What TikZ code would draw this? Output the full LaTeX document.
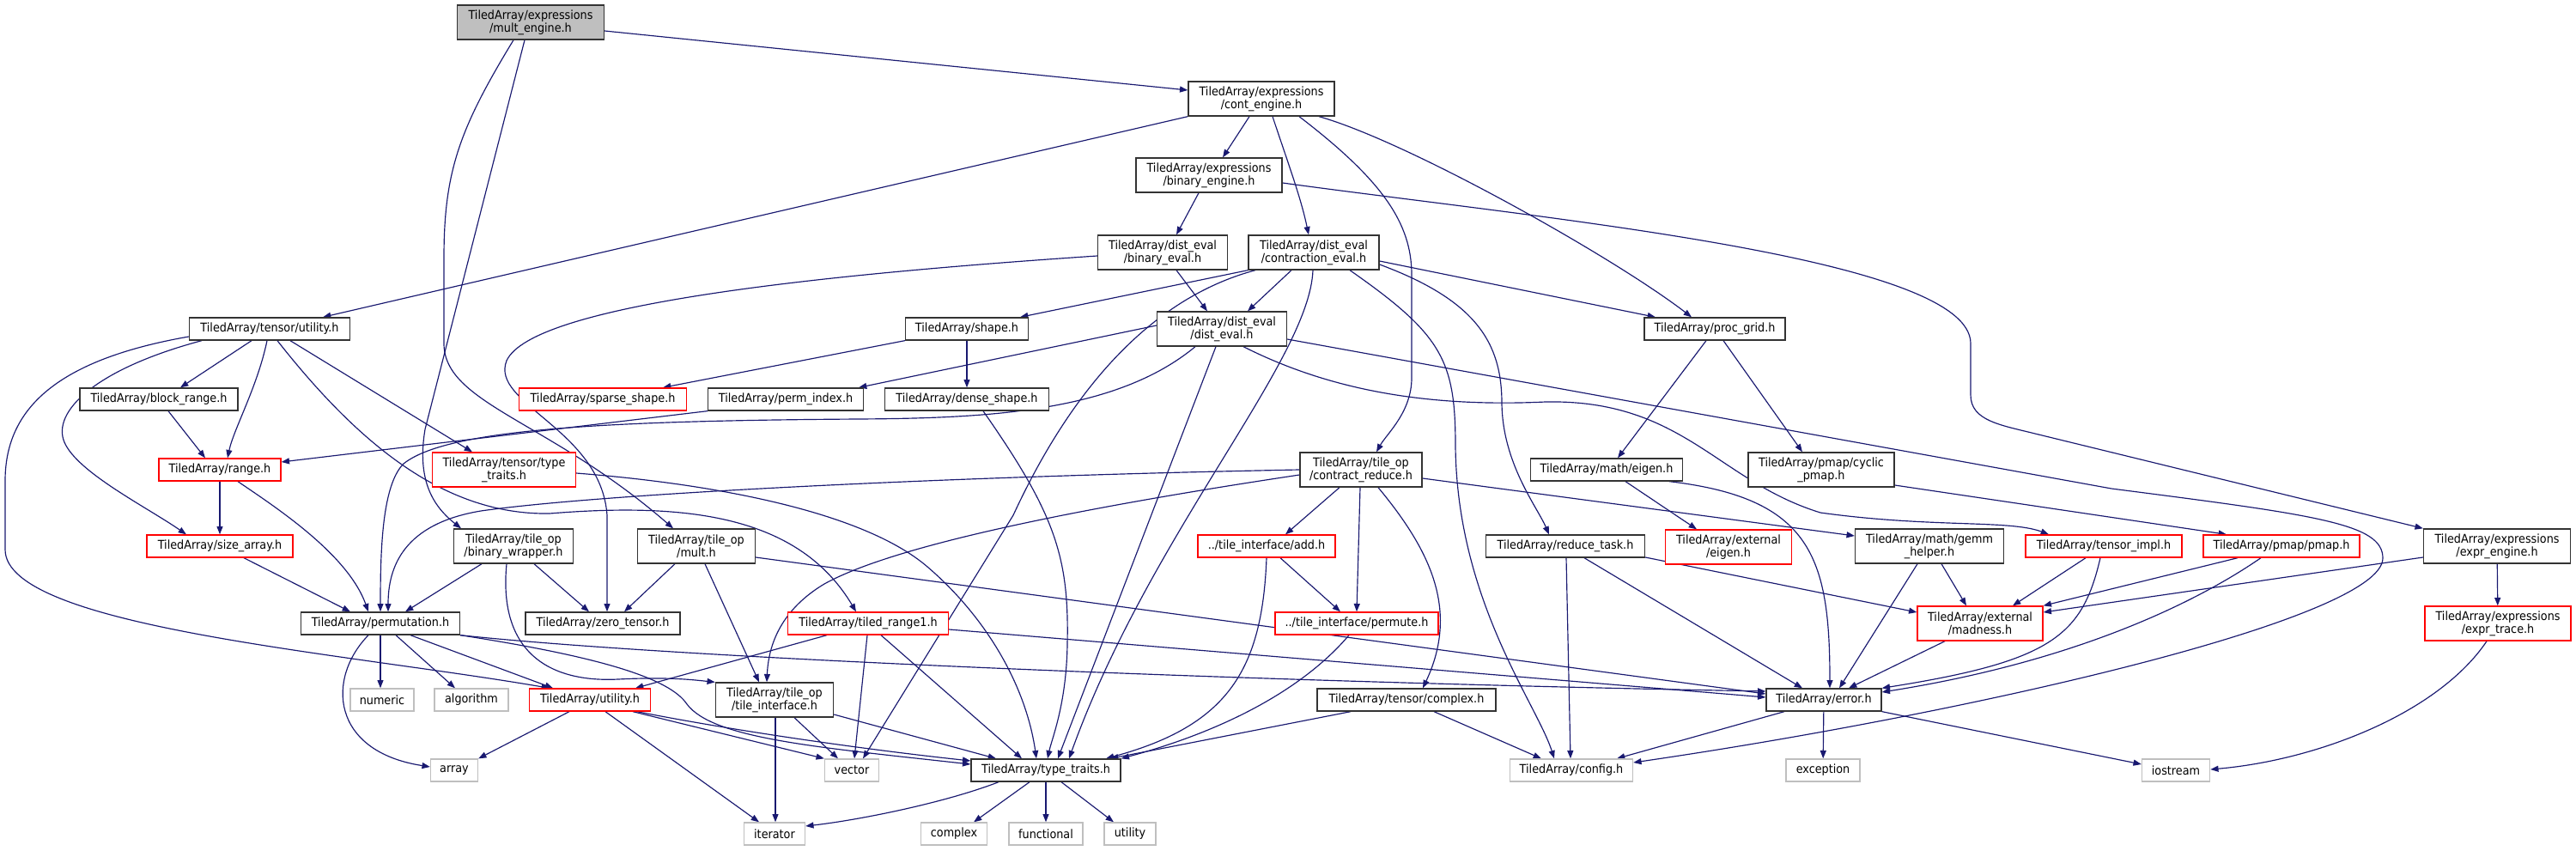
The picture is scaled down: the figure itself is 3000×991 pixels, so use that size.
\documentclass[tikz,border=0pt]{standalone}
\usepackage{fontspec}
\usepackage{tikz}
\usetikzlibrary{arrows.meta,positioning,backgrounds}
\newfontfamily\dxfont[FakeStretch=0.91]{DejaVu Sans}
\definecolor{edgeblue}{RGB}{25,25,112}
\definecolor{boxgray}{RGB}{191,191,191}

\begin{document}
\begin{tikzpicture}[
    x=0.3mm, y=-0.3mm,
    box/.style={rectangle, draw=black!80, line width=0.4mm, fill=white, align=center,
        inner sep=0pt, minimum height=7.8mm, font=\dxfont\fontsize{12}{12.5}\selectfont},
    tall/.style={minimum height=12mm},
    wd/.style={minimum width=#1*0.3mm},
    redbox/.style={box, draw=red},
    sysbox/.style={box, draw=black!25},
    mainbox/.style={box, fill=boxgray},
    arrow/.style={draw=edgeblue, line width=0.35mm, -{Triangle[length=2.8mm, width=2.1mm]}}
]
\useasboundingbox (0,0) rectangle (3000,991);

\node[mainbox, tall, wd=171] (mult) at (618,26) {TiledArray/expressions\\/mult\_engine.h};
\node[box, tall, wd=170] (cont) at (1469,115) {TiledArray/expressions\\/cont\_engine.h};
\node[box, tall, wd=170] (bineng) at (1408,204) {TiledArray/expressions\\/binary\_engine.h};
\node[box, tall, wd=151] (bineval) at (1354,294) {TiledArray/dist\_eval\\/binary\_eval.h};
\node[box, tall, wd=152] (contr) at (1530,294) {TiledArray/dist\_eval\\/contraction\_eval.h};
\node[box, wd=187] (tutil) at (314,383) {TiledArray/tensor/utility.h};
\node[box, wd=143] (shape) at (1126,383) {TiledArray/shape.h};
\node[box, tall, wd=151] (disteval) at (1423,383) {TiledArray/dist\_eval\\/dist\_eval.h};
\node[box, wd=164] (procgrid) at (1997,383) {TiledArray/proc\_grid.h};
\node[box, wd=184] (blockr) at (185,465) {TiledArray/block\_range.h};
\node[redbox, wd=195] (sparse) at (702,465) {TiledArray/sparse\_shape.h};
\node[box, wd=181] (permidx) at (915,465) {TiledArray/perm\_index.h};
\node[box, wd=191] (dense) at (1126,465) {TiledArray/dense\_shape.h};
\node[redbox, wd=142] (range) at (256,547) {TiledArray/range.h};
\node[redbox, tall, wd=167] (ttraits) at (587,547) {TiledArray/tensor/type\\\_traits.h};
\node[box, tall, wd=142] (contred) at (1585,547) {TiledArray/tile\_op\\/contract\_reduce.h};
\node[box, wd=177] (eigen) at (1871,547) {TiledArray/math/eigen.h};
\node[box, tall, wd=170] (cyclic) at (2121,547) {TiledArray/pmap/cyclic\\\_pmap.h};
\node[redbox, wd=170] (sizearr) at (256,636) {TiledArray/size\_array.h};
\node[box, tall, wd=139] (binwrap) at (598,636) {TiledArray/tile\_op\\/binary\_wrapper.h};
\node[box, tall, wd=137] (multh) at (811,636) {TiledArray/tile\_op\\/mult.h};
\node[redbox, wd=160] (add) at (1475,636) {../tile\_interface/add.h};
\node[box, wd=185] (reduce) at (1823,636) {TiledArray/reduce\_task.h};
\node[redbox, tall, wd=147] (exteigen) at (2013,637) {TiledArray/external\\/eigen.h};
\node[box, tall, wd=173] (gemm) at (2247,636) {TiledArray/math/gemm\\\_helper.h};
\node[redbox, wd=182] (timpl) at (2450,636) {TiledArray/tensor\_impl.h};
\node[redbox, wd=182] (pmap) at (2657,636) {TiledArray/pmap/pmap.h};
\node[box, tall, wd=171] (exprengine) at (2908,636) {TiledArray/expressions\\/expr\_engine.h};
\node[box, wd=185] (perm) at (443,726) {TiledArray/permutation.h};
\node[box, wd=180] (zerot) at (702,726) {TiledArray/zero\_tensor.h};
\node[redbox, wd=187] (tr1) at (1011,726) {TiledArray/tiled\_range1.h};
\node[redbox, wd=190] (permute) at (1580,726) {../tile\_interface/permute.h};
\node[redbox, tall, wd=146] (madness) at (2306,726) {TiledArray/external\\/madness.h};
\node[redbox, tall, wd=170] (exprtrace) at (2909,726) {TiledArray/expressions\\/expr\_trace.h};
\node[sysbox, wd=74] (numeric) at (445,815) {numeric};
\node[sysbox, wd=86] (algorithm) at (549,815) {algorithm};
\node[redbox, wd=141] (utilh) at (687,815) {TiledArray/utility.h};
\node[box, tall, wd=137] (tileif) at (902,815) {TiledArray/tile\_op\\/tile\_interface.h};
\node[box, wd=208] (complexh) at (1638,815) {TiledArray/tensor/complex.h};
\node[box, wd=134] (error) at (2124,815) {TiledArray/error.h};
\node[sysbox, wd=55] (array) at (529,897) {array};
\node[sysbox, wd=63] (vector) at (992,897) {vector};
\node[box, wd=174] (ttr) at (1218,897) {TiledArray/type\_traits.h};
\node[sysbox, wd=143] (config) at (1830,897) {TiledArray/config.h};
\node[sysbox, wd=86] (exception) at (2123,897) {exception};
\node[sysbox, wd=79] (iostream) at (2534,897) {iostream};
\node[sysbox, wd=71] (iterator) at (902,971) {iterator};
\node[sysbox, wd=77] (complex) at (1111,971) {complex};
\node[sysbox, wd=86] (functional) at (1218,971) {functional};
\node[sysbox, wd=60] (utility) at (1316,971) {utility};

\begin{scope}[on background layer]
\draw[arrow] (mult.east |- 0,36) -- (cont.west |- 0,105);
\draw[arrow] (mult.south -| 611,0) -- (495,500) .. controls (485,560) and (505,590) .. (binwrap.north -| 537,0);
\draw[arrow] (mult.south -| 598,0) .. controls (535,150) and (517,200) .. (517,300) -- (517,400) .. controls (517,470) and (640,490) .. (multh.north -| 784,0);
\draw[arrow] (cont.south -| 1455,0) -- (bineng.north -| 1424,0);
\draw[arrow] (cont.south -| 1482,0) .. controls (1500,190) and (1515,230) .. (contr.north -| 1524,0);
\draw[arrow] (cont.south -| 1513,0) .. controls (1610,210) and (1644,260) .. (1644,320) -- (1644,440) .. controls (1644,480) and (1615,505) .. (contred.north -| 1603,0);
\draw[arrow] (cont.south -| 1536,0) .. controls (1640,165) and (1880,300) .. (procgrid.north -| 1970,0);
\draw[arrow] (cont.south west) -- (tutil.north -| 376,0);
\draw[arrow] (bineng.south -| 1396,0) -- (bineval.north -| 1370,0);
\draw[arrow] (bineng.east |- 0,213) .. controls (1800,255) and (2295,300) .. (2295,400) -- (2295,460) .. controls (2295,490) and (2330,495) .. (2370,505) -- (exprengine.north west);
\draw[arrow] (bineval.south -| 1370,0) -- (disteval.north -| 1406,0);
\draw[arrow] (bineval.west |- 0,298) .. controls (950,320) and (620,355) .. (590,420) .. controls (570,470) and (700,500) .. (707,600) -- (zerot.north -| 707,0);
\draw[arrow] (contr.south west) -- (shape.north -| 1188,0);
\draw[arrow] (contr.south -| 1504,0) -- (disteval.north -| 1453,0);
\draw[arrow] (contr.south -| 1462,0) .. controls (1330,350) and (1240,470) .. (1180,600) -- (vector.north -| 1005,0);
\draw[arrow] (contr.south -| 1529,0) .. controls (1525,420) and (1340,620) .. (ttr.north -| 1245,0);
\draw[arrow] (contr.south -| 1572,0) .. controls (1680,390) and (1695,420) .. (1695,520) .. controls (1697,700) and (1790,820) .. (config.north -| 1810,0);
\draw[arrow] (contr.east |- 0,308) .. controls (1720,350) and (1749,400) .. (1749,470) .. controls (1750,540) and (1790,590) .. (reduce.north -| 1804,0);
\draw[arrow] (contr.east |- 0,304) -- (procgrid.north -| 1928,0);
\draw[arrow] (disteval.west |- 0,379) -- (permidx.north -| 1000,0);
\draw[arrow] (disteval.south -| 1392,0) .. controls (1300,480) and (1150,487) .. (1000,488) .. controls (700,490) and (520,500) .. (470,540) .. controls (445,565) and (443,640) .. (perm.north -| 443,0);
\draw[arrow] (disteval.south -| 1416,0) -- (ttr.north -| 1232,0);
\draw[arrow] (disteval.south -| 1448,0) .. controls (1540,450) and (1650,475) .. (1800,468) .. controls (1960,465) and (2000,560) .. (2120,597) .. controls (2250,615) and (2340,605) .. (timpl.north -| 2386,0);
\draw[arrow] (disteval.east |- 0,395) -- (2459,569) .. controls (2700,600) and (2775,610) .. (2775,650) .. controls (2775,720) and (2300,830) .. (config.east |- 0,888);
\draw[arrow] (shape.south west) -- (sparse.north -| 772,0);
\draw[arrow] (shape) -- (dense);
\draw[arrow] (procgrid.south -| 1987,0) -- (eigen.north -| 1884,0);
\draw[arrow] (procgrid.south -| 2007,0) -- (cyclic.north -| 2099,0);
\draw[arrow] (tutil.south -| 293,0) -- (blockr.north -| 210,0);
\draw[arrow] (tutil.south -| 311,0) .. controls (300,450) and (272,500) .. (range.north -| 265,0);
\draw[arrow] (tutil.south -| 235,0) .. controls (110,430) and (60,480) .. (75,515) .. controls (90,550) and (170,590) .. (sizearr.north -| 217,0);
\draw[arrow] (tutil.west |- 0,392) .. controls (60,420) and (6,480) .. (6,560) -- (6,640) .. controls (6,730) and (400,760) .. (utilh.north -| 640,0);
\draw[arrow] (tutil.south -| 338,0) -- (ttraits.north -| 550,0);
\draw[arrow] (tutil.south -| 323,0) .. controls (420,520) and (520,600) .. (640,598) .. controls (800,585) and (930,600) .. (tr1.north -| 997,0);
\draw[arrow] (blockr.south -| 196,0) -- (range.north -| 239,0);
\draw[arrow] (permidx.south west) -- (range.east |- 0,538);
\draw[arrow] (dense.south -| 1145,0) .. controls (1230,600) and (1245,650) .. (1243,750) .. controls (1242,820) and (1225,860) .. (ttr.north -| 1220,0);
\draw[arrow] (range) -- (sizearr);
\draw[arrow] (range.south -| 277,0) .. controls (320,590) and (405,645) .. (perm.north -| 429,0);
\draw[arrow] (ttraits.east |- 0,551) .. controls (850,565) and (1010,600) .. (1080,660) .. controls (1150,720) and (1195,800) .. (ttr.north -| 1207,0);
\draw[arrow] (contred.west |- 0,547) .. controls (1100,555) and (700,575) .. (560,595) .. controls (470,610) and (452,660) .. (perm.north -| 452,0);
\draw[arrow] (contred.west |- 0,553) .. controls (1300,585) and (1050,630) .. (960,680) .. controls (910,710) and (895,750) .. (tileif.north -| 893,0);
\draw[arrow] (contred.south -| 1560,0) -- (add.north -| 1497,0);
\draw[arrow] (contred.south -| 1584,0) -- (permute.north -| 1580,0);
\draw[arrow] (contred.south -| 1605,0) .. controls (1665,640) and (1700,710) .. (complexh.north -| 1657,0);
\draw[arrow] (contred.east |- 0,557) -- (gemm.west |- 0,624);
\draw[arrow] (eigen.south -| 1893,0) -- (exteigen.north -| 1976,0);
\draw[arrow] (eigen.south -| 1944,0) .. controls (2110,580) and (2131,650) .. (error.north -| 2131,0);
\draw[arrow] (cyclic.east |- 0,565) -- (pmap.north -| 2593,0);
\draw[arrow] (sizearr.south -| 284,0) -- (perm.north -| 408,0);
\draw[arrow] (binwrap.south -| 561,0) -- (perm.north -| 472,0);
\draw[arrow] (binwrap.south -| 622,0) -- (zerot.north -| 686,0);
\draw[arrow] (binwrap.south -| 590,0) .. controls (580,760) and (640,795) .. (720,791) .. controls (780,788) and (810,792) .. (tileif.north west);
\draw[arrow] (multh.south -| 786,0) -- (zerot.north -| 727,0);
\draw[arrow] (multh.south -| 821,0) -- (tileif.north -| 884,0);
\draw[arrow] (multh.east |- 0,649) -- (error.west |- 0,808);
\draw[arrow] (add.south -| 1491,0) -- (permute.north -| 1561,0);
\draw[arrow] (add.south -| 1475,0) .. controls (1470,780) and (1430,845) .. (ttr.north -| 1288,0);
\draw[arrow] (reduce.south -| 1824,0) -- (config.north -| 1829,0);
\draw[arrow] (reduce.south -| 1845,0) -- (error.north -| 2099,0);
\draw[arrow] (reduce.east |- 0,649) -- (madness.west |- 0,713);
\draw[arrow] (gemm.south -| 2261,0) -- (madness.north -| 2290,0);
\draw[arrow] (gemm.south -| 2233,0) -- (error.north -| 2142,0);
\draw[arrow] (timpl.south -| 2429,0) -- (madness.north -| 2344,0);
\draw[arrow] (timpl.south -| 2446,0) .. controls (2425,740) and (2390,770) .. (error.north east);
\draw[arrow] (pmap.south -| 2606,0) -- (madness.north east);
\draw[arrow] (pmap.south -| 2633,0) .. controls (2560,700) and (2420,770) .. (error.east |- 0,806);
\draw[arrow] (exprengine.west |- 0,649) -- (madness.east |- 0,713);
\draw[arrow] (exprengine) -- (exprtrace);
\draw[arrow] (exprtrace.south -| 2896,0) .. controls (2840,830) and (2700,885) .. (iostream.east |- 0,896);
\draw[arrow] (perm.south -| 429,0) .. controls (380,790) and (385,875) .. (array.west |- 0,893);
\draw[arrow] (perm.south -| 443,0) -- (numeric.north -| 443,0);
\draw[arrow] (perm.south -| 461,0) -- (algorithm.north -| 530,0);
\draw[arrow] (perm.south -| 478,0) -- (utilh.north -| 644,0);
\draw[arrow] (perm.south east) .. controls (700,765) and (780,790) .. (800,820) .. controls (830,860) and (950,870) .. (ttr.west |- 0,890);
\draw[arrow] (perm.south east) .. controls (800,768) and (1500,795) .. (error.west |- 0,805);
\draw[arrow] (tr1.south -| 963,0) -- (utilh.north -| 740,0);
\draw[arrow] (tr1.south -| 1010,0) -- (vector.north -| 995,0);
\draw[arrow] (tr1.south -| 1026,0) -- (ttr.north -| 1190,0);
\draw[arrow] (tr1.east |- 0,733) -- (error.west |- 0,812);
\draw[arrow] (permute.south -| 1571,0) .. controls (1520,800) and (1430,850) .. (ttr.north east);
\draw[arrow] (madness.south -| 2265,0) -- (error.north -| 2153,0);
\draw[arrow] (utilh.south -| 663,0) -- (array.north east);
\draw[arrow] (utilh.south -| 705,0) -- (iterator.north -| 884,0);
\draw[arrow] (utilh.south -| 737,0) -- (vector.north west);
\draw[arrow] (utilh.south -| 742,0) .. controls (850,850) and (1000,872) .. (ttr.west |- 0,886);
\draw[arrow] (tileif.south -| 903,0) -- (iterator.north -| 903,0);
\draw[arrow] (tileif.south -| 925,0) -- (vector.north -| 976,0);
\draw[arrow] (tileif.east |- 0,832) -- (ttr.north -| 1160,0);
\draw[arrow] (complexh.south -| 1573,0) -- (ttr.north -| 1293,0);
\draw[arrow] (complexh.south -| 1670,0) -- (config.north -| 1795,0);
\draw[arrow] (error.south -| 2078,0) -- (config.north -| 1883,0);
\draw[arrow] (error) -- (exception);
\draw[arrow] (error.south east) -- (iostream.west |- 0,890);
\draw[arrow] (ttr.south -| 1163,0) .. controls (1100,935) and (1000,955) .. (iterator.east |- 0,962);
\draw[arrow] (ttr.south -| 1199,0) -- (complex.north -| 1134,0);
\draw[arrow] (ttr) -- (functional);
\draw[arrow] (ttr.south -| 1236,0) -- (utility.north -| 1297,0);
\end{scope}
\end{tikzpicture}
\end{document}
